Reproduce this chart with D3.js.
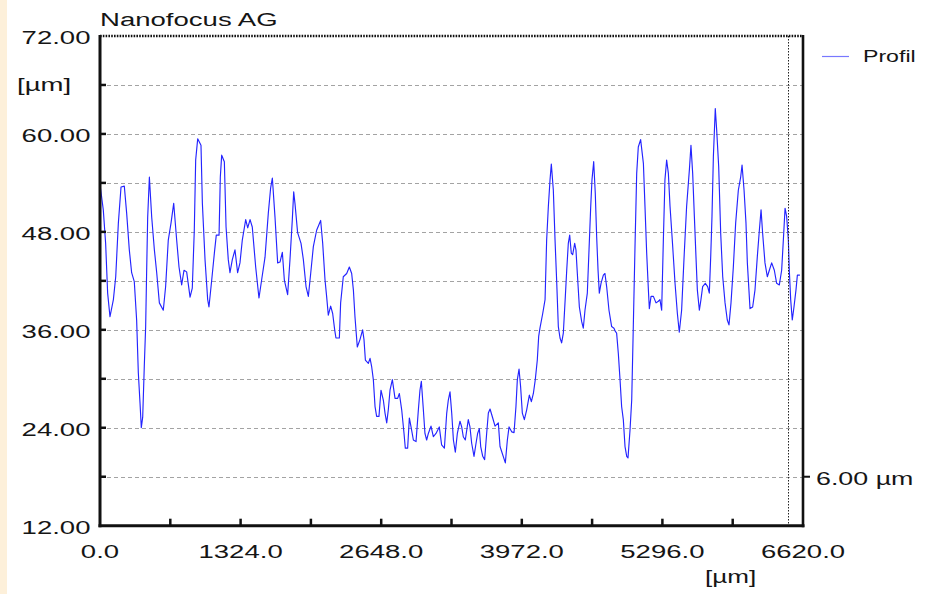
<!DOCTYPE html>
<html>
<head>
<meta charset="utf-8">
<script src="https://cdn.jsdelivr.net/npm/d3@7"></script>
<style>
  html, body { margin: 0; padding: 0; background: #ffffff; }
  svg { display: block; }
  text { font-family: "Liberation Sans", Arial, Helvetica, sans-serif; fill: #151515; }
</style>
</head>
<body>
<svg id="chart" width="944" height="594"></svg>
<script>
// Surface profile: lateral position [µm] and height [µm]
const profileX = [
  0, 31, 53, 72, 94, 126, 148, 173, 198, 229, 251, 276, 298, 323, 345, 361, 377, 389, 402, 417,
  430, 439, 449, 465, 487, 512, 534, 559, 596, 618, 643, 669, 694, 722, 744, 769, 791, 816, 848, 869,
  888, 901, 920, 951, 964, 989, 1014, 1026, 1052, 1077, 1095, 1121, 1133, 1146, 1171, 1187, 1208, 1224, 1246, 1271,
  1296, 1318, 1340, 1372, 1391, 1413, 1434, 1466, 1497, 1522, 1554, 1585, 1607, 1623, 1648, 1673, 1695, 1717, 1736, 1767,
  1789, 1811, 1824, 1836, 1861, 1893, 1915, 1940, 1962, 1984, 2009, 2040, 2078, 2097, 2119, 2134, 2150, 2172, 2191, 2210,
  2222, 2254, 2266, 2291, 2323, 2348, 2370, 2386, 2401, 2423, 2448, 2473, 2486, 2499, 2527, 2543, 2558, 2574, 2590, 2605,
  2627, 2646, 2668, 2684, 2700, 2715, 2731, 2753, 2778, 2803, 2819, 2841, 2863, 2875, 2897, 2913, 2929, 2951, 2976, 2998,
  3013, 3026, 3045, 3060, 3076, 3092, 3117, 3139, 3164, 3195, 3217, 3243, 3265, 3280, 3296, 3312, 3328, 3346, 3365, 3390,
  3406, 3421, 3440, 3468, 3484, 3500, 3522, 3541, 3556, 3572, 3585, 3604, 3622, 3641, 3657, 3673, 3698, 3720, 3751, 3767,
  3817, 3836, 3852, 3877, 3899, 3917, 3930, 3946, 3961, 3977, 3996, 4018, 4043, 4062, 4081, 4099, 4118, 4131, 4143, 4169,
  4191, 4206, 4222, 4238, 4250, 4269, 4285, 4300, 4316, 4332, 4347, 4363, 4382, 4395, 4410, 4423, 4438, 4451, 4470, 4482,
  4495, 4514, 4536, 4551, 4567, 4589, 4605, 4621, 4633, 4649, 4664, 4677, 4690, 4702, 4718, 4740, 4755, 4771, 4793, 4818,
  4840, 4853, 4865, 4881, 4897, 4912, 4928, 4944, 4960, 4972, 4991, 5007, 5022, 5038, 5054, 5069, 5091, 5117, 5132, 5148,
  5164, 5173, 5189, 5211, 5236, 5258, 5273, 5289, 5305, 5320, 5336, 5352, 5368, 5393, 5415, 5437, 5455, 5477, 5499, 5524,
  5550, 5565, 5581, 5597, 5612, 5625, 5644, 5659, 5675, 5700, 5722, 5738, 5751, 5763, 5776, 5794, 5807, 5826, 5845, 5864,
  5886, 5907, 5923, 5942, 5964, 5986, 6011, 6033, 6046, 6065, 6083, 6096, 6121, 6146, 6168, 6190, 6209, 6225, 6240, 6262,
  6284, 6303, 6325, 6350, 6372, 6397, 6419, 6435, 6451, 6466, 6482, 6491, 6504, 6519, 6535, 6554, 6567, 6591
];
const profileZ = [
  53.8, 50.7, 46.6, 40.5, 37.6, 39.7, 42.5, 49.1, 53.5, 53.6, 50.3, 45.8, 43.0, 41.9, 37.2, 30.7, 27.0, 24.0, 25.3, 31.5,
  36.4, 43.0, 49.8, 54.7, 49.8, 45.8, 43.0, 39.3, 38.4, 41.3, 47.0, 49.1, 51.5, 47.0, 43.7, 41.5, 43.3, 43.1, 40.0, 41.1,
  48.2, 56.8, 59.4, 58.6, 51.5, 44.6, 39.7, 38.8, 42.1, 45.4, 47.6, 47.6, 54.7, 57.4, 56.6, 48.6, 44.6, 43.0, 44.6, 45.8,
  43.0, 44.2, 47.0, 49.5, 48.5, 49.5, 48.6, 43.7, 39.9, 42.1, 44.9, 50.3, 53.4, 54.6, 49.8, 44.2, 44.3, 45.5, 42.1, 40.3,
  44.6, 49.5, 52.9, 51.5, 47.9, 46.6, 44.6, 41.3, 40.1, 42.9, 46.2, 48.2, 49.4, 46.6, 42.1, 40.1, 37.8, 38.9, 38.0, 36.0,
  35.0, 35.0, 39.3, 42.5, 42.9, 43.7, 42.9, 40.9, 37.6, 33.9, 34.8, 36.0, 34.8, 32.3, 31.9, 32.5, 31.5, 29.9, 26.6, 25.4,
  25.4, 28.6, 27.4, 25.8, 24.6, 26.2, 28.6, 29.9, 27.6, 27.6, 28.2, 26.2, 23.3, 21.5, 21.5, 25.2, 24.1, 22.5, 22.3, 26.2,
  28.6, 29.7, 26.2, 23.3, 22.5, 23.3, 24.2, 22.9, 23.3, 24.1, 21.9, 21.5, 25.8, 27.4, 28.4, 25.8, 22.5, 21.0, 23.3, 24.8,
  24.1, 22.9, 22.5, 25.0, 24.1, 22.1, 20.5, 22.1, 23.3, 23.9, 21.7, 20.5, 20.1, 23.3, 25.8, 26.3, 25.2, 24.2, 24.6, 21.7,
  19.7, 22.5, 24.1, 23.5, 23.4, 26.6, 29.9, 31.2, 29.0, 25.8, 25.0, 26.2, 28.0, 27.2, 28.2, 29.9, 32.3, 35.2, 36.2, 38.0,
  39.7, 47.0, 51.1, 54.4, 56.3, 53.1, 47.0, 42.1, 36.4, 35.0, 34.4, 35.6, 40.1, 43.3, 46.6, 47.6, 45.4, 45.2, 46.6, 45.8,
  42.9, 38.8, 37.0, 36.2, 38.4, 40.5, 45.8, 51.1, 54.4, 56.6, 52.7, 47.4, 43.3, 40.5, 41.7, 42.7, 42.9, 41.3, 38.4, 36.4,
  36.2, 35.8, 35.6, 33.1, 29.9, 26.6, 25.0, 21.7, 20.5, 20.3, 23.7, 27.4, 36.4, 46.2, 55.2, 58.4, 59.3, 56.4, 51.1, 45.4,
  40.9, 38.6, 40.1, 40.1, 39.3, 39.5, 39.7, 38.4, 47.0, 54.4, 56.8, 55.2, 51.1, 46.2, 41.7, 38.0, 35.7, 38.4, 44.6, 51.1,
  55.6, 58.6, 55.2, 49.9, 45.0, 40.9, 38.4, 39.7, 41.3, 41.7, 41.3, 40.5, 45.0, 49.9, 57.2, 63.1, 60.5, 56.0, 47.8, 42.5,
  39.3, 37.2, 36.6, 39.3, 43.7, 49.1, 53.1, 54.7, 56.2, 53.1, 49.1, 44.2, 38.6, 38.8, 40.9, 45.0, 48.2, 50.7, 47.8, 44.2,
  42.5, 43.3, 44.2, 43.3, 41.7, 41.5, 43.3, 47.0, 50.9, 49.9, 47.0, 43.3, 39.7, 37.2, 38.8, 40.9, 42.7, 42.7
];

// Axis ticks
const xLabelTicks = [0, 1324, 2648, 3972, 5296, 6620];
const xMinorTicks = [662, 1324, 1986, 2648, 3310, 3972, 4634, 5296, 5958];
const yLabelTicks = [12, 24, 36, 48, 60, 72];
const yGridTicks = [18, 24, 30, 36, 42, 48, 54, 60, 66];
const cursorX = 6483;          // position of the measuring cursor
const scaleBarZ = 18;          // height marker on the right-hand axis
const scaleBarText = "6.00 µm";
const titleText = "Nanofocus AG";
const unitText = "[µm]";
const seriesName = "Profil";

const svg = d3.select("#chart");
const plot = { left: 100, right: 803, top: 36, bottom: 525.7 };
const x = d3.scaleLinear().domain([0, 6620]).range([plot.left, plot.right]);
const y = d3.scaleLinear().domain([12, 72]).range([plot.bottom, plot.top]);

// page background with the tinted strip on the left edge
svg.append("rect").attr("width", 944).attr("height", 594).attr("fill", "#ffffff");
svg.append("rect").attr("width", 7).attr("height", 594).attr("fill", "#fdf0da");

// Horizontally stretched text, as in the instrument's export
const SX = 1.45;
function label(str, px, py, size, anchor, sx) {
  return svg.append("text")
    .attr("transform", `translate(${px},${py}) scale(${sx || SX},1)`)
    .attr("text-anchor", anchor)
    .attr("font-size", size)
    .text(str);
}

// grid
svg.append("g").selectAll("line").data(yGridTicks).join("line")
  .attr("x1", plot.left).attr("x2", plot.right)
  .attr("y1", d => Math.round(y(d)) + 0.5).attr("y2", d => Math.round(y(d)) + 0.5)
  .attr("stroke", "#a3a3a3").attr("stroke-width", 1).attr("stroke-dasharray", "4,3");

// profile line
const line = d3.line().x((d, i) => x(profileX[i])).y(d => y(d));
svg.append("path").datum(profileZ)
  .attr("d", line)
  .attr("fill", "none")
  .attr("stroke", "#2424ff")
  .attr("stroke-width", 1.15)
  .attr("stroke-linejoin", "round");

// measuring cursor
svg.append("line")
  .attr("x1", Math.round(x(cursorX)) + 0.5).attr("x2", Math.round(x(cursorX)) + 0.5)
  .attr("y1", plot.top).attr("y2", plot.bottom)
  .attr("stroke", "#222").attr("stroke-width", 1).attr("stroke-dasharray", "1.5,1.5");

// frame: solid left, bottom and right, dotted top
svg.append("line").attr("x1", plot.left).attr("x2", plot.right)
  .attr("y1", plot.top).attr("y2", plot.top)
  .attr("stroke", "#111").attr("stroke-width", 2.5).attr("stroke-dasharray", "1.6,1.2");
svg.append("line").attr("x1", plot.left).attr("x2", plot.left)
  .attr("y1", plot.top - 1).attr("y2", plot.bottom + 1.5)
  .attr("stroke", "#111").attr("stroke-width", 3);
svg.append("line").attr("x1", plot.left - 1.5).attr("x2", plot.right + 1.5)
  .attr("y1", plot.bottom).attr("y2", plot.bottom)
  .attr("stroke", "#111").attr("stroke-width", 3);
svg.append("line").attr("x1", plot.right).attr("x2", plot.right)
  .attr("y1", plot.top - 1).attr("y2", plot.bottom + 1.5)
  .attr("stroke", "#111").attr("stroke-width", 2.6);

// y ticks (inward) and labels
svg.append("g").selectAll("line").data(yGridTicks).join("line")
  .attr("x1", plot.left).attr("x2", plot.left + 6)
  .attr("y1", d => y(d)).attr("y2", d => y(d))
  .attr("stroke", "#111").attr("stroke-width", 2.5);
yLabelTicks.forEach(v => label(v.toFixed(2), plot.left - 9.5, y(v) + 8, 19, "end"));

// x ticks (inward) and labels
svg.append("g").selectAll("line").data(xMinorTicks).join("line")
  .attr("x1", d => x(d)).attr("x2", d => x(d))
  .attr("y1", plot.bottom).attr("y2", plot.bottom - 7)
  .attr("stroke", "#111").attr("stroke-width", 2.5);
xLabelTicks.forEach(v => label(v.toFixed(1), x(v), 558, 19, "middle"));

// right-hand height marker
svg.append("line")
  .attr("x1", plot.right).attr("x2", plot.right + 7)
  .attr("y1", y(scaleBarZ)).attr("y2", y(scaleBarZ))
  .attr("stroke", "#111").attr("stroke-width", 2);
label(scaleBarText, 816, y(scaleBarZ) + 8.5, 18.5, "start");

// titles and units
label(titleText, 100, 26, 19, "start");
label(unitText, 17, 91, 19, "start");
label(unitText, 705, 583, 18, "start");

// legend
svg.append("line").attr("x1", 822).attr("x2", 849).attr("y1", 56.5).attr("y2", 56.5)
  .attr("stroke", "#7878ff").attr("stroke-width", 1.2);
label(seriesName, 863, 62, 17, "start", 1.36);
</script>
</body>
</html>
